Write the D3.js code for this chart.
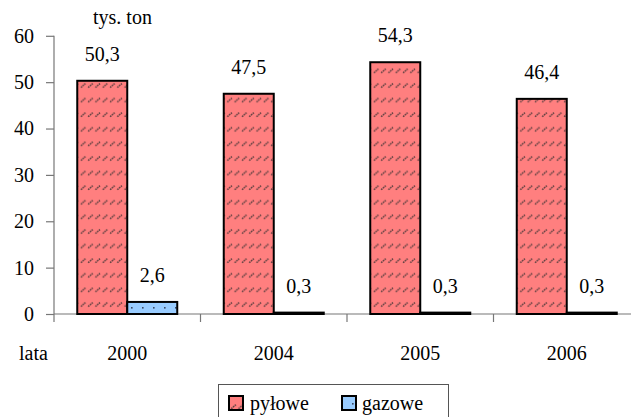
<!DOCTYPE html>
<html><head><meta charset="utf-8">
<script src="https://cdn.jsdelivr.net/npm/d3@7"></script>
<style>
html,body{margin:0;padding:0;background:#fff;overflow:hidden}
</style></head>
<body>
<script>
const categories = ["2000", "2004", "2005", "2006"];
const seriesNames = ["pyłowe", "gazowe"];
const pylowe = [50.3, 47.5, 54.3, 46.4];
const gazowe = [2.6, 0.3, 0.3, 0.3];
const yTicks = [0, 10, 20, 30, 40, 50, 60];
const unitLabel = "tys. ton";
const xTitle = "lata";

const FONT = "Times New Roman, Liberation Serif, Tinos, DejaVu Serif, Noto Serif, serif";
const W = 631, H = 417;
const svg = d3.select("body").append("svg").attr("width", W).attr("height", H)
  .style("font-family", FONT);
const defs = svg.append("defs");

// patterns
const p1 = defs.append("pattern").attr("id", "patP").attr("patternUnits", "userSpaceOnUse")
  .attr("width", 7.3).attr("height", 14.6).attr("x", 77).attr("y", 80);
p1.append("rect").attr("width", 7.3).attr("height", 14.6).attr("fill", "#FF7F7F");
p1.append("line").attr("x1", 1).attr("y1", 7.5).attr("x2", 5.5).attr("y2", 3.5)
  .attr("stroke", "#5e4040").attr("stroke-width", 1.5).attr("stroke-dasharray", "1.6,0.7");
const p2 = defs.append("pattern").attr("id", "patG").attr("patternUnits", "userSpaceOnUse")
  .attr("width", 11).attr("height", 8).attr("x", 128).attr("y", 303);
p2.append("rect").attr("width", 11).attr("height", 8).attr("fill", "#99CCFF");
p2.append("rect").attr("x", 4).attr("y", 4).attr("width", 1.6).attr("height", 1.6).attr("fill", "#3a4a66");

const x0 = d3.scaleBand().domain(categories).range([54, 640]).paddingInner(0).paddingOuter(0);
const x1 = d3.scaleBand().domain(seriesNames).range([0, x0.bandwidth()]).paddingInner(0).paddingOuter(0.465);
const y = d3.scaleLinear().domain([0, 60]).range([314, 35.8]);

const data = categories.map((c, i) => ({cat: c, vals: [
  {s: seriesNames[0], v: pylowe[i]}, {s: seriesNames[1], v: gazowe[i]}]}));
const fills = {"pyłowe": "url(#patP)", "gazowe": "url(#patG)"};
const fmt = v => v.toFixed(1).replace(".", ",");

function tx(sel) { return sel.style("font-family", FONT).style("font-size", "20px").attr("fill", "#000"); }

// axes
const yAxis = d3.axisLeft(y).tickValues(yTicks).tickSize(8).tickPadding(12).tickFormat(d3.format("d"));
const gy = svg.append("g").attr("transform", "translate(54,0)").call(yAxis);
gy.attr("font-family", null).attr("font-size", null);
gy.select(".domain").attr("stroke", "#777").attr("stroke-width", 1.2).attr("d", "M0,35.8V322");
gy.selectAll(".tick line").attr("stroke", "#777").attr("stroke-width", 1.2);
tx(gy.selectAll(".tick text"));

const gx = svg.append("g").attr("transform", "translate(0,314)");
gx.append("line").attr("x1", 54).attr("x2", 640).attr("y1", 0).attr("y2", 0)
  .attr("stroke", "#777").attr("stroke-width", 1.2);
gx.selectAll("line.tk").data(categories.slice(1)).join("line").attr("class", "tk")
  .attr("x1", d => x0(d)).attr("x2", d => x0(d)).attr("y1", 0).attr("y2", 8)
  .attr("stroke", "#777").attr("stroke-width", 1.2);
tx(gx.selectAll("text.cl").data(categories).join("text").attr("class", "cl")
  .attr("x", d => x0(d) + x0.bandwidth() / 2).attr("y", 46)
  .attr("text-anchor", "middle").text(d => d));
tx(svg.append("text").attr("x", 19).attr("y", 360).text(xTitle));
tx(svg.append("text").attr("x", 93).attr("y", 24).text(unitLabel));

// bars
const groups = svg.selectAll("g.grp").data(data).join("g").attr("class", "grp")
  .attr("transform", d => `translate(${x0(d.cat)},0)`);
groups.selectAll("rect").data(d => d.vals).join("rect")
  .attr("x", d => x1(d.s)).attr("width", x1.bandwidth())
  .attr("y", d => y(d.v)).attr("height", d => y(0) - y(d.v))
  .attr("fill", d => fills[d.s]).attr("stroke", "#000").attr("stroke-width", 2);
tx(groups.selectAll("text").data(d => d.vals).join("text")
  .attr("x", d => x1(d.s) + x1.bandwidth() / 2).attr("y", d => y(d.v) - 20)
  .attr("text-anchor", "middle").text(d => fmt(d.v)));

// legend
const lg = svg.append("g");
lg.append("rect").attr("x", 218.5).attr("y", 384.5).attr("width", 230).attr("height", 40)
  .attr("fill", "#fff").attr("stroke", "#555").attr("stroke-width", 1);
const items = [{s: seriesNames[0], x: 228, tx: 250}, {s: seriesNames[1], x: 341, tx: 362}];
items.forEach(it => {
  lg.append("rect").attr("x", it.x + 1).attr("y", 396).attr("width", 14).attr("height", 14)
    .attr("fill", fills[it.s]).attr("stroke", "#000").attr("stroke-width", 2);
  tx(lg.append("text").attr("x", it.tx).attr("y", 410).text(it.s));
});
</script>
</body></html>
